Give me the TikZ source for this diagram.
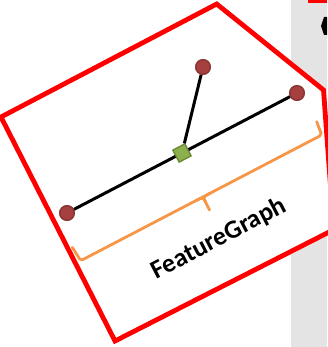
\documentclass[tikz,border=0pt]{standalone}
\usepackage{fontspec}
\setmainfont{Carlito}
\usetikzlibrary{calc}
\definecolor{frame}{HTML}{FF0000}
\definecolor{panel}{HTML}{E4E4E4}
\definecolor{leafFill}{HTML}{A5403F}
\definecolor{leafLine}{HTML}{8A3533}
\definecolor{hubFill}{HTML}{8DB04F}
\definecolor{hubLine}{HTML}{6B8A36}
\definecolor{braceCol}{HTML}{F79646}
\tikzset{
  leaf/.style={circle, fill=leafFill, draw=leafLine, line width=1.3pt, minimum size=14.5pt, inner sep=0pt},
  hub/.style={rectangle, fill=hubFill, draw=hubLine, line width=1.4pt, minimum size=13.5pt, inner sep=0pt, rotate=27.5},
  edge/.style={line width=3pt, black},
  bracecurve/.style={line width=2.8pt, braceCol, line cap=round, line join=round, rounded corners=2pt},
  outline/.style={line width=4.8pt, frame, fill=white, line join=miter},
}
\begin{document}
\begin{tikzpicture}[x=1pt, y=-1pt]
\useasboundingbox (0,0) rectangle (327,347);
% grey side panel
\fill[panel] (291,0) rectangle (327,347);
% bits of the neighbouring shapes at the top right
\fill[frame] (308,0) rectangle (327,3);
\fill[black] (327,17) -- (324,17) -- (321,26) -- (324,35) -- (327,35) -- cycle;
% framing pentagon
\draw[outline] (216.7,4) -- (323.5,90) -- (333.7,229.7) -- (115,341) -- (1,117) -- cycle;
% graph
\node[leaf] (top) at (203,67) {};
\node[leaf] (right) at (297,93) {};
\node[leaf] (left) at (67,213) {};
\node[hub] (hub) at (182,153) {};
\draw[edge] (left) -- (hub);
\draw[edge] (hub) -- (right);
\draw[edge] (hub) -- (top);
\node[leaf] at (top) {};
\node[leaf] at (right) {};
\node[leaf] at (left) {};
% brace under the graph
\coordinate (bl) at (72.3,247.3);
\coordinate (bc) at (80.7,260.7);
\coordinate (mid) at (203,197);
\coordinate (tip) at (209.5,210);
\coordinate (rc) at (321.7,135);
\coordinate (br) at (316.7,121.7);
\draw[bracecurve] (bl) -- (bc) -- (rc) -- (br);
\draw[bracecurve] ($(mid)!0.35!(tip)$) -- (tip);
\draw[braceCol, line width=2.8pt] (196,200.6) .. controls (203,197) .. ($(mid)!0.4!(tip)$);
\draw[braceCol, line width=2.8pt] (210,193.4) .. controls (203,197) .. ($(mid)!0.4!(tip)$);
% caption
\node[rotate=27.5, font=\bfseries\fontsize{26}{30}\selectfont] (label) at (219,239) {FeatureGraph};
\end{tikzpicture}
\end{document}
